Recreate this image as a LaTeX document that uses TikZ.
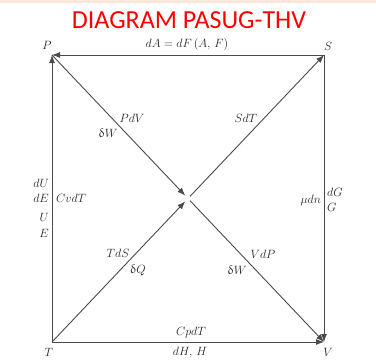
\documentclass[tikz,border=0pt]{standalone}
\usepackage{fontspec}
\usepackage{amsmath}
\usepackage{upgreek}
\usetikzlibrary{positioning,arrows.meta,calc}
\newfontfamily\titlefont{Carlito}
\definecolor{peach}{HTML}{FCE8DA}
\definecolor{lineg}{HTML}{4A4A4A}
\tikzset{every node/.append style={font=\fontsize{12.5}{14}\selectfont}}
\begin{document}
\begin{tikzpicture}[x=1pt, y=-1pt]
		\tikzstyle{edge} = [draw=lineg, line width=0.9pt];
		\tikzstyle{tip} = [-{Latex[length=8pt, width=6pt]}];
		\tikzstyle{corner} = [inner sep=1pt, text=black!85];
		\tikzstyle{lab} = [inner sep=1pt, text=black!85];
		\useasboundingbox (0,0) rectangle (376,362);
		\fill[peach] (0,0) rectangle (376,3);
		\node (title) [text=red, font=\titlefont\fontsize{26}{28}\selectfont] at (189,20) {DIAGRAM PASUG-THV};
		% corners of the square
		\coordinate (p) at (52,55);
		\coordinate (s) at (324,55);
		\coordinate (t) at (52,342);
		\coordinate (v) at (324,342);
		\coordinate (c) at (188,198.5);
		\node (pl) [corner] at (47,45) {$P$};
		\node (sl) [corner] at (328,46) {$S$};
		\node (tl) [corner] at (49,352) {$T$};
		\node (vl) [corner] at (328,352) {$V$};
		% edges of the square
		\draw[edge, tip] (s) -- (p);
		\draw[edge, tip] (t) -- (p);
		\draw[edge, tip] (t) -- (v);
		\draw[edge, tip] (s) -- (v);
		% diagonals through the centre
		\draw[edge, tip, shorten >=4pt] (p) -- (c);
		\draw[edge, tip, shorten >=4pt] (t) -- (c);
		\draw[edge, tip, shorten <=3pt] (c) -- (s);
		\draw[edge, tip, shorten <=3pt] (c) -- (v);
		% labels
		\node (top) [lab] at (187,44) {$dA = dF\,(A,\,F)$};
		\node (pdv) [lab] at (132,118) {$PdV$};
		\node (dw1) [lab] at (108,133) {$\updelta W$};
		\node (sdt) [lab] at (246,118) {$SdT$};
		\node (tds) [lab] at (118,253) {$TdS$};
		\node (dq) [lab] at (138,270) {$\updelta Q$};
		\node (vdp) [lab] at (263,254) {$VdP$};
		\node (dw2) [lab] at (237,270) {$\updelta W$};
		\node (du) [lab, anchor=east] at (50,183) {$dU$};
		\node (de) [lab, anchor=east] at (50,198) {$dE$};
		\node (u) [lab, anchor=east] at (50,217) {$U$};
		\node (e) [lab, anchor=east] at (50,233) {$E$};
		\node (cvdt) [lab, anchor=west] at (55,198) {$CvdT$};
		\node (mudn) [lab, anchor=east] at (322,200) {$\mu dn$};
		\node (dg) [lab, anchor=west] at (326,192) {$dG$};
		\node (g) [lab, anchor=west] at (326,207) {$G$};
		\node (cpdt) [lab] at (191,332) {$CpdT$};
		\node (dh) [lab] at (190,352) {$dH,\,H$};
\end{tikzpicture}
\end{document}
